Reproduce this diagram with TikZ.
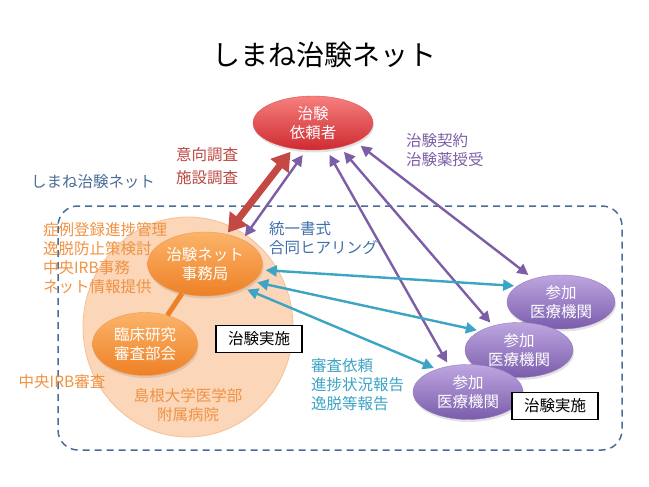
\documentclass[tikz,border=0pt]{standalone}
\usepackage{fontspec}
\setmainfont{Noto Sans CJK JP}
\usetikzlibrary{arrows.meta, shapes.geometric, shadows, positioning}
\definecolor{SponsorTop}{RGB}{246,128,126}
\definecolor{SponsorBottom}{RGB}{206,42,48}
\definecolor{OfficeTop}{RGB}{251,180,105}
\definecolor{OfficeBottom}{RGB}{238,128,38}
\definecolor{HospitalPeach}{RGB}{251,214,184}
\definecolor{HospitalEdge}{RGB}{246,192,146}
\definecolor{SiteTop}{RGB}{190,166,224}
\definecolor{SiteBottom}{RGB}{122,92,172}
\definecolor{TextOrange}{RGB}{240,146,66}
\definecolor{NetBlue}{RGB}{74,108,150}
\definecolor{FormBlue}{RGB}{64,112,170}
\definecolor{ReportCyan}{RGB}{60,164,196}
\definecolor{ArrowPurple}{RGB}{124,94,166}
\definecolor{ArrowRed}{RGB}{196,72,68}
\definecolor{SurveyRed}{RGB}{186,72,66}

\tikzset{
  txt/.style={font=\fontsize{15.5}{19}\selectfont, inner sep=0pt},
  oval/.style={ellipse, inner sep=0pt, align=center, text=white,
    font=\fontsize{15.5}{19}\selectfont,
    drop shadow={opacity=0.22, shadow xshift=1pt, shadow yshift=-2.5pt}},
  sitebox/.style={draw=black, line width=1.3pt, fill=white, minimum width=86pt,
    minimum height=27pt, inner sep=0pt, font=\fontsize{15.5}{19}\selectfont},
  purplearrow/.style={ArrowPurple, line width=2.4pt,
    {Triangle[length=11pt,width=11pt]}-{Triangle[length=11pt,width=11pt]}},
  cyanarrow/.style={ReportCyan, line width=2.4pt,
    {Triangle[length=11pt,width=11pt]}-{Triangle[length=11pt,width=11pt]}}
}

\begin{document}
\begin{tikzpicture}[x=1pt, y=-1pt]
  \useasboundingbox (0,0) rectangle (649,487);

  % Title
  \node[font=\fontsize{28}{32}\selectfont, inner sep=0pt] (title) at (324,55) {しまね治験ネット};

  % Network frame
  \draw[NetBlue, line width=1.5pt, dash pattern=on 7pt off 5pt, rounded corners=20pt]
    (58,206) rectangle (622,450);
  \node[txt, text=NetBlue] (netlabel) at (93,182) {しまね治験ネット};

  % Hospital area
  \node[ellipse, fill=HospitalPeach, draw=HospitalEdge, line width=0.8pt,
    minimum width=210pt, minimum height=220pt, inner sep=0pt] (hospital) at (188,327) {};
  \node[txt, text=TextOrange, align=center] (hosplabel) at (188,405) {島根大学医学部\\附属病院};

  % Office and review board
  \node[oval, top color=OfficeTop, bottom color=OfficeBottom, draw=OfficeBottom!80!white,
    minimum width=115pt, minimum height=64pt] (jimu) at (205,264) {治験ネット\\事務局};
  \node[oval, top color=OfficeTop, bottom color=OfficeBottom, draw=OfficeBottom!80!white,
    minimum width=105pt, minimum height=63pt] (shinsa) at (145,344) {臨床研究\\審査部会};
  \draw[OfficeBottom, line width=5pt] (jimu.232) -- (shinsa.52);

  % Office tasks
  \node[txt, text=TextOrange, align=left, anchor=west] (tasks) at (43,258)
    {症例登録進捗管理\\逸脱防止策検討\\中央IRB事務\\ネット情報提供};
  \node[txt, text=TextOrange] (irb) at (62,382) {中央IRB審査};
  \node[sitebox] (boxL) at (259,339) {治験実施};

  % Sponsor
  \node[oval, top color=SponsorTop, bottom color=SponsorBottom, draw=SponsorBottom!80!white,
    minimum width=120pt, minimum height=54pt] (sponsor) at (313,123) {治験\\依頼者};

  % Participating sites
  \node[oval, top color=SiteTop, bottom color=SiteBottom, draw=SiteBottom!80!white,
    minimum width=108pt, minimum height=54pt] (p1) at (561,302) {参加\\医療機関};
  \node[oval, top color=SiteTop, bottom color=SiteBottom, draw=SiteBottom!80!white,
    minimum width=108pt, minimum height=55pt] (p2) at (519,350) {参加\\医療機関};
  \node[oval, top color=SiteTop, bottom color=SiteBottom, draw=SiteBottom!80!white,
    minimum width=110pt, minimum height=55pt] (p3) at (468,392) {参加\\医療機関};
  \node[sitebox] (boxR) at (555,406) {治験実施};

  % Sponsor links
  \draw[ArrowRed, line width=7pt,
    {Triangle[length=18pt,width=22pt]}-{Triangle[length=18pt,width=22pt]},
    shorten <=4pt, shorten >=2pt] (sponsor.232) -- (jimu.54);
  \node[txt, text=SurveyRed, align=center, font=\fontsize{15.5}{23}\selectfont] (survey) at (207,166)
    {意向調査\\施設調査};
  \draw[purplearrow, shorten <=6pt, shorten >=4pt] (sponsor.256) -- (jimu.33);
  \node[txt, text=FormBlue, align=left, anchor=west] (format) at (269,238) {統一書式\\合同ヒアリング};
  \draw[purplearrow, shorten <=6pt, shorten >=6pt] (sponsor.336) -- (p1.140);
  \draw[purplearrow, shorten <=6pt, shorten >=4pt] (sponsor.318) -- (p2.137);
  \draw[purplearrow, shorten <=6pt, shorten >=4pt] (sponsor.297) -- (p3.126);
  \node[txt, text=ArrowPurple, align=left, anchor=west] (contract) at (406,150) {治験契約\\治験薬授受};

  % Office links
  \draw[cyanarrow, shorten <=4pt, shorten >=3pt] (jimu.354) -- (p1.160);
  \draw[cyanarrow, shorten <=4pt, shorten >=3pt] (jimu.340) -- (p2.154);
  \draw[cyanarrow, shorten <=4pt, shorten >=3pt] (jimu.328) -- (p3.144);
  \node[txt, text=ReportCyan, align=left, anchor=west] (report) at (311,385)
    {審査依頼\\進捗状況報告\\逸脱等報告};
\end{tikzpicture}
\end{document}
